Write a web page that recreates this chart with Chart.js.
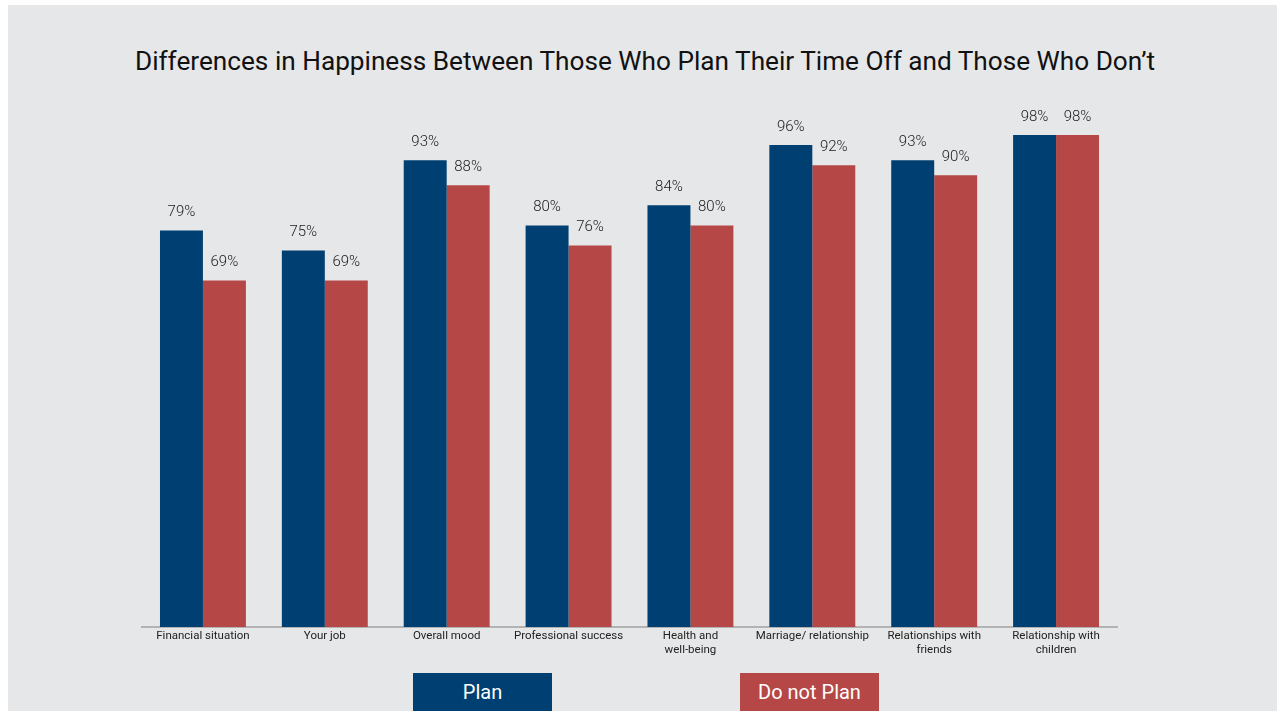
<!DOCTYPE html>
<html lang="en">
<head>
    <meta charset="UTF-8">
    <title>Differences in Happiness</title>
    <script src="https://cdn.jsdelivr.net/npm/chart.js"></script>
    <style>
        body { margin: 0; background: #ffffff; font-family: Roboto, sans-serif; }
        #wrap {
            position: absolute; left: 8px; top: 5px;
            width: 1269px; height: 706px;
            background: #e6e7e8;
        }
        #wrap canvas { position: absolute; left: 0; top: 0; }
        .title {
            position: absolute; left: 0; width: 1274px; top: 41px;
            text-align: center; font-size: 26.2px; color: #111;
        }
        .leg {
            position: absolute; top: 668px; width: 139px; height: 38px;
            color: #fff; font-size: 20px; text-align: center; line-height: 38px;
        }
    </style>
</head>
<body>
    <div id="wrap">
        <div class="title">Differences in Happiness Between Those Who Plan Their Time Off and Those Who Don’t</div>
        <canvas id="chart" width="1269" height="706"></canvas>
        <div class="leg" id="leg-plan" style="left:405px; background:#003f72;">Plan</div>
        <div class="leg" id="leg-noplan" style="left:732px; background:#b54846;">Do not Plan</div>
    </div>

    <script>
        // dados do gráfico
        const categories = [
            'Financial situation',
            'Your job',
            'Overall mood',
            'Professional success',
            ['Health and', 'well-being'],
            'Marriage/ relationship',
            ['Relationships with', 'friends'],
            ['Relationship with', 'children']
        ];
        const seriesNames = ['Plan', 'Do not Plan'];
        const planValues = [79, 75, 93, 80, 84, 96, 93, 98];
        const noPlanValues = [69, 69, 88, 76, 80, 92, 90, 98];

        const BLUE = '#003f72';
        const RED = '#b54846';

        // desenha os rótulos de valor acima das barras
        const valueLabels = {
            id: 'valueLabels',
            afterDatasetsDraw(chart) {
                const ctx = chart.ctx;
                ctx.save();
                ctx.font = '300 15px Roboto';
                ctx.fillStyle = '#1a1a1a';
                ctx.textAlign = 'center';
                ctx.textBaseline = 'middle';
                chart.data.datasets.forEach((ds, i) => {
                    chart.getDatasetMeta(i).data.forEach((bar, j) => {
                        ctx.fillText(ds.data[j] + '%', bar.x, bar.y - 18);
                    });
                });
                ctx.restore();
            }
        };

        new Chart(document.getElementById('chart'), {
            type: 'bar',
            data: {
                labels: categories,
                datasets: [
                    { label: seriesNames[0], data: planValues, backgroundColor: BLUE },
                    { label: seriesNames[1], data: noPlanValues, backgroundColor: RED }
                ]
            },
            options: {
                responsive: false,
                animation: false,
                layout: { padding: { left: 134, right: 160, top: 120, bottom: 0 } },
                datasets: { bar: { categoryPercentage: 0.705, barPercentage: 1.0 } },
                plugins: {
                    legend: { display: false },
                    title: { display: false },
                    tooltip: { enabled: false }
                },
                scales: {
                    x: {
                        grid: { display: false, drawTicks: false },
                        border: { display: true, color: '#b3b3b3', width: 2 },
                        ticks: {
                            color: '#222',
                            font: { family: 'Roboto', size: 11.5, lineHeight: 1.15 },
                            padding: 3,
                            maxRotation: 0,
                            autoSkip: false
                        },
                        afterFit(scale) { scale.height = 84; }
                    },
                    y: {
                        display: false,
                        min: 0,
                        max: 100
                    }
                }
            },
            plugins: [valueLabels]
        });
    </script>
</body>
</html>
